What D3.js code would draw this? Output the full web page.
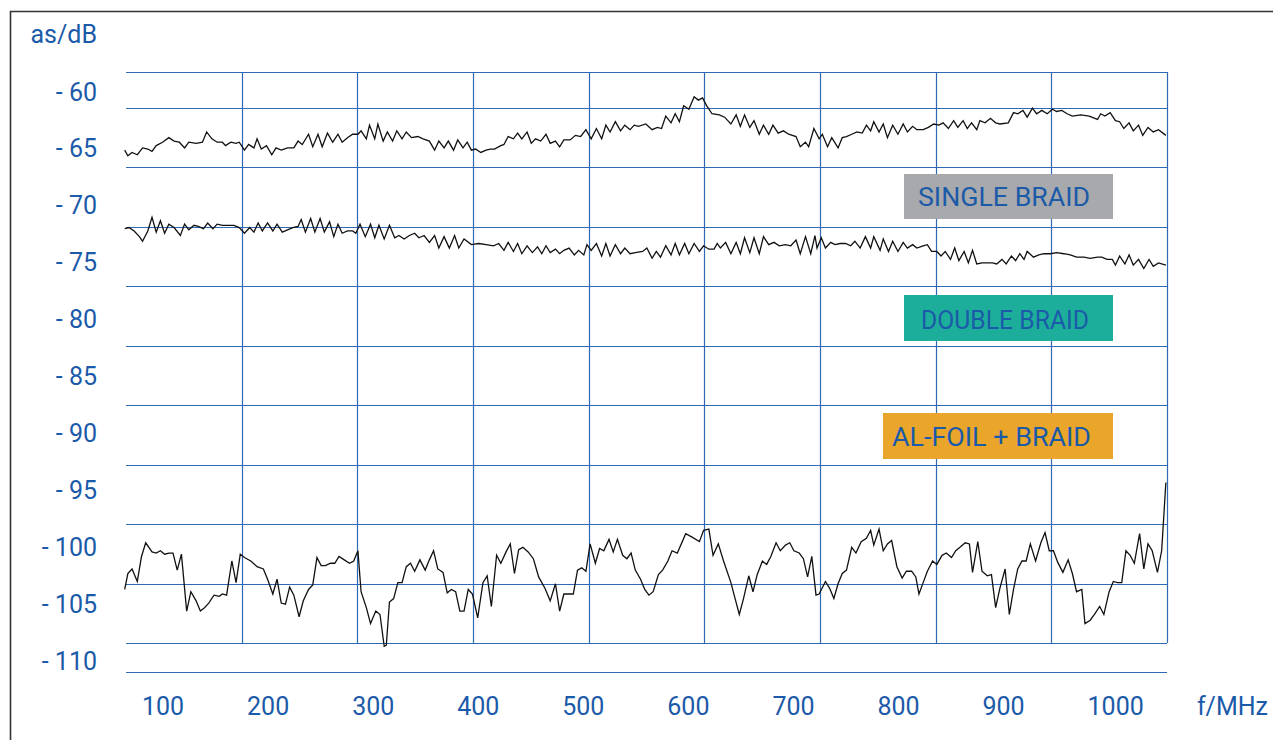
<!DOCTYPE html>
<html>
<head>
<meta charset="utf-8">
<script src="https://cdn.jsdelivr.net/npm/d3@7"></script>
<style>
  html, body { margin: 0; padding: 0; background: #fff; }
  svg { display: block; }
  text { font-family: Roboto, "Noto Sans", sans-serif; }
</style>
</head>
<body>
<svg id="chart" width="1273" height="740"></svg>
<script>
// ---------------- DATA ----------------
const yTickValues = [-60, -65, -70, -75, -80, -85, -90, -95, -100, -105, -110];
const xTickValues = [100, 200, 300, 400, 500, 600, 700, 800, 900, 1000];
const yAxisTitle = "as/dB";
const xAxisTitle = "f/MHz";
const seriesNames = ["SINGLE BRAID", "DOUBLE BRAID", "AL-FOIL + BRAID"];
const seriesColors = ["#a7a9ac", "#1dae9b", "#e9a62a"];

// [frequency MHz, attenuation dB]
const singleBraid = [[84,-65.2],[87,-65.7],[91,-65.4],[96,-65.6],[101,-65.0],[106,-65.1],[110,-65.3],[114,-64.8],[120,-64.5],[126,-64.1],[131,-64.4],[136,-64.5],[141,-65.0],[145,-64.5],[152,-64.6],[158,-64.5],[162,-63.6],[167,-64.2],[172,-64.5],[177,-64.5],[180,-64.8],[185,-64.5],[190,-64.6],[193,-64.5],[198,-65.2],[202,-64.7],[207,-65.0],[210,-64.2],[214,-65.1],[219,-64.8],[224,-65.6],[228,-65.0],[233,-65.2],[239,-65.0],[245,-65.0],[249,-64.4],[253,-64.7],[259,-63.8],[263,-64.9],[268,-63.8],[272,-64.9],[277,-63.7],[282,-64.5],[287,-63.8],[291,-64.5],[296,-64.1],[301,-63.8],[306,-63.8],[309,-63.5],[314,-64.2],[317,-63.0],[322,-64.2],[325,-62.9],[330,-64.4],[334,-63.6],[339,-64.4],[343,-63.5],[348,-64.2],[352,-63.6],[357,-64.1],[363,-64.0],[368,-64.2],[374,-64.4],[379,-65.2],[383,-64.4],[388,-65.0],[392,-64.4],[397,-65.2],[401,-64.3],[406,-65.0],[410,-64.5],[414,-65.2],
[418,-65.1],[423,-65.4],[428,-65.2],[432,-65.1],[436,-65.1],[442,-64.8],[445,-64.7],[449,-64.0],[454,-64.2],[458,-63.7],[462,-64.2],[467,-63.6],[471,-64.6],[475,-64.2],[480,-64.4],[485,-63.8],[489,-64.6],[494,-64.4],[498,-64.9],[502,-64.3],[508,-64.3],[513,-63.9],[518,-64.0],[523,-63.4],[528,-64.2],[533,-63.3],[538,-64.2],[542,-63.0],[546,-63.6],[551,-62.7],[556,-63.5],[560,-63.0],[565,-63.4],[569,-63.0],[573,-63.1],[580,-62.9],[586,-63.4],[591,-63.2],[595,-63.3],[599,-62.2],[604,-62.8],[608,-62.0],[612,-62.7],[616,-61.3],[621,-61.6],[626,-60.5],[630,-60.8],[634,-60.6],[638,-61.3],[643,-62.0],[650,-62.1],[655,-62.3],[661,-62.9],[666,-62.1],[670,-63.1],[674,-62.1],[679,-63.2],[683,-62.6],[688,-63.8],[692,-63.0],[697,-63.8],[701,-63.0],[706,-63.7],[711,-63.5],[716,-63.8],[723,-64.0],[727,-64.9],[732,-64.5],[735,-64.9],[740,-63.3],[745,-64.2],
[748,-63.8],[753,-64.9],[757,-64.1],[763,-65.0],[767,-64.1],[771,-64.0],[776,-63.8],[781,-63.6],[786,-63.7],[790,-63.0],[794,-63.5],[797,-62.7],[802,-63.6],[806,-62.9],[810,-64.1],[815,-63.0],[820,-63.8],[825,-62.9],[829,-63.6],[834,-63.1],[838,-63.4],[844,-63.4],[849,-63.2],[854,-62.9],[859,-63.0],[863,-62.8],[868,-63.3],[873,-62.6],[877,-63.2],[882,-62.6],[886,-63.3],[890,-62.8],[895,-63.4],[898,-62.6],[903,-62.8],[908,-62.4],[913,-62.8],[917,-62.9],[925,-62.8],[930,-61.9],[934,-62.0],[939,-61.7],[943,-62.3],[948,-61.5],[952,-62.0],[957,-61.7],[962,-62.0],[967,-61.6],[971,-61.8],[976,-61.7],[981,-62.0],[986,-62.2],[994,-62.1],[1002,-62.2],[1010,-62.5],[1013,-62.0],[1017,-62.2],[1022,-61.9],[1027,-62.6],[1031,-62.7],[1035,-63.3],[1040,-62.8],[1044,-63.5],[1049,-63.0],[1053,-63.9],[1058,-63.2],[1063,-63.6],[1068,-63.4],[1075,-63.9]];

const doubleBraid = [[84,-72.1],[88,-72.0],[93,-72.3],[98,-72.8],[101,-73.2],[106,-72.3],[110,-71.1],[114,-72.4],[118,-71.4],[122,-72.5],[126,-71.7],[131,-72.0],[137,-72.7],[141,-71.7],[145,-72.2],[150,-71.8],[154,-71.9],[159,-72.1],[163,-71.6],[168,-72.1],[172,-71.7],[177,-71.8],[182,-71.8],[188,-71.8],[193,-72.0],[198,-72.5],[203,-72.0],[207,-72.4],[211,-71.6],[215,-72.3],[220,-71.6],[225,-72.3],[229,-71.7],[234,-72.4],[239,-72.2],[244,-72.0],[249,-71.9],[252,-71.3],[256,-72.4],[261,-71.2],[265,-72.4],[270,-71.2],[274,-72.4],[279,-71.5],[283,-72.8],[287,-71.7],[291,-72.5],[296,-72.3],[301,-72.3],[304,-72.5],[308,-71.7],[313,-72.8],[318,-71.7],[322,-72.9],[326,-71.8],[331,-73.0],[336,-71.8],[341,-72.9],[345,-72.7],[350,-73.0],[355,-72.7],[360,-72.5],[364,-72.9],[369,-72.7],[374,-73.3],[379,-72.7],[383,-73.8],[388,-72.8],[393,-73.8],[398,-72.7],[402,-73.8],[407,-73.0],[414,-73.5],
[421,-73.4],[428,-73.5],[435,-73.6],[440,-73.4],[445,-74.0],[449,-73.3],[454,-74.1],[458,-73.4],[462,-74.3],[467,-73.6],[472,-74.2],[477,-73.7],[481,-74.3],[485,-73.6],[489,-74.2],[494,-73.9],[498,-74.3],[502,-74.0],[507,-73.8],[512,-74.4],[516,-74.0],[521,-74.4],[524,-73.5],[528,-74.0],[533,-73.4],[538,-74.5],[542,-73.4],[546,-74.5],[551,-73.5],[556,-74.3],[560,-73.8],[565,-74.3],[570,-74.2],[577,-74.1],[581,-73.8],[586,-74.7],[590,-74.1],[594,-74.6],[599,-73.6],[604,-74.4],[608,-73.4],[612,-74.4],[617,-73.4],[621,-74.3],[626,-73.4],[631,-74.1],[635,-73.6],[640,-73.9],[645,-73.9],[648,-73.4],[651,-73.8],[656,-73.3],[661,-74.3],[666,-73.3],[670,-74.3],[674,-72.9],[679,-74.2],[683,-72.9],[688,-74.3],[692,-72.8],[697,-73.5],[702,-73.3],[707,-73.6],[713,-73.5],[718,-73.6],[723,-73.1],[727,-74.3],[732,-72.8],[737,-74.3],[741,-72.7],
[743,-73.8],[747,-72.9],[751,-73.8],[756,-73.3],[760,-73.5],[765,-73.4],[770,-73.4],[775,-73.6],[779,-73.2],[784,-73.8],[789,-72.8],[794,-73.8],[797,-72.8],[803,-74.0],[806,-73.0],[811,-74.1],[815,-73.2],[820,-74.1],[825,-73.3],[829,-73.8],[834,-73.5],[838,-73.8],[844,-73.6],[848,-73.5],[852,-74.1],[857,-74.1],[861,-74.5],[865,-74.1],[870,-74.8],[874,-73.8],[878,-74.9],[883,-74.1],[887,-75.1],[891,-74.0],[895,-75.2],[900,-75.1],[905,-75.1],[910,-75.1],[914,-75.2],[919,-74.8],[923,-75.2],[928,-74.5],[932,-74.9],[936,-74.3],[940,-74.8],[943,-74.1],[949,-74.6],[954,-74.4],[959,-74.3],[965,-74.3],[971,-74.2],[978,-74.3],[984,-74.4],[990,-74.6],[997,-74.6],[1003,-74.7],[1010,-74.6],[1014,-74.6],[1019,-74.8],[1024,-74.8],[1027,-75.3],[1031,-74.5],[1036,-75.2],[1040,-74.4],[1044,-75.3],[1049,-74.8],[1054,-75.6],[1059,-74.8],[1063,-75.4],[1068,-75.1],[1075,-75.3]];

const foilBraid = [[84,-103.8],[87,-102.4],[91,-102.0],[96,-103.1],[100,-100.9],[104,-99.7],[110,-100.5],[114,-100.6],[118,-100.4],[122,-100.7],[126,-100.6],[130,-100.6],[134,-102.1],[138,-100.7],[143,-105.7],[147,-104.0],[152,-104.8],[156,-105.7],[160,-105.4],[164,-105.0],[169,-104.3],[174,-104.4],[177,-104.2],[181,-104.3],[186,-101.3],[190,-103.2],[194,-100.7],[198,-101.0],[204,-101.3],[210,-101.8],[216,-102.0],[220,-102.9],[225,-104.2],[229,-102.9],[233,-105.0],[237,-105.1],[241,-103.6],[245,-104.3],[250,-106.2],[254,-104.8],[259,-103.8],[263,-103.4],[267,-101.0],[271,-101.7],[275,-101.7],[280,-101.5],[284,-101.5],[288,-100.9],[293,-101.2],[298,-101.5],[302,-101.3],[306,-100.4],[309,-104.0],[314,-105.4],[318,-106.8],[323,-105.7],[327,-106.0],[331,-108.8],[333,-108.7],[336,-104.9],[340,-104.6],[344,-103.2],[348,-103.2],[352,-101.8],[356,-101.5],[360,-102.2],[365,-101.2],[370,-102.1],[374,-101.2],[378,-100.4],[382,-102.0],[387,-102.3],[391,-104.1],[395,-103.8],[399,-104.0],[403,-105.7],[407,-105.7],[411,-103.8],[415,-104.2],
[420,-106.3],[425,-103.2],[429,-102.6],[433,-105.3],[438,-100.8],[442,-101.5],[447,-100.5],[451,-99.8],[455,-102.4],[459,-100.3],[463,-100.1],[468,-100.5],[473,-101.1],[478,-102.7],[484,-103.7],[489,-104.8],[494,-103.3],[498,-105.7],[502,-104.2],[507,-104.2],[511,-104.2],[515,-102.1],[519,-101.9],[523,-102.2],[527,-99.8],[532,-101.5],[536,-100.2],[540,-100.4],[545,-99.4],[549,-100.5],[553,-99.4],[558,-100.8],[562,-101.1],[566,-100.6],[570,-102.1],[575,-102.9],[579,-103.8],[583,-104.3],[587,-104.0],[592,-102.5],[596,-102.1],[601,-101.3],[605,-100.4],[610,-100.6],[618,-98.9],[624,-99.2],[631,-99.6],[635,-98.6],[640,-98.5],[644,-100.8],[649,-99.8],[654,-101.3],[661,-103.2],[665,-104.6],[669,-106.0],[673,-104.6],[678,-102.6],[682,-104.0],[686,-102.5],[691,-101.3],[695,-101.6],[699,-100.9],[704,-99.7],[708,-100.4],[713,-99.9],[717,-99.7],[721,-100.4],[726,-100.6],[730,-101.1],[734,-102.7],[738,-100.9],[742,-104.3],[745,-104.2],
[751,-103.1],[755,-103.7],[759,-104.6],[763,-103.3],[767,-102.4],[771,-102.1],[776,-100.1],[780,-100.6],[785,-99.6],[790,-99.3],[794,-98.6],[797,-99.9],[802,-98.5],[806,-100.4],[810,-99.8],[814,-99.5],[819,-101.8],[824,-102.8],[828,-102.2],[833,-102.2],[837,-102.7],[840,-104.2],[844,-103.2],[848,-102.2],[853,-101.3],[857,-101.6],[862,-100.8],[866,-100.6],[871,-101.0],[875,-100.4],[879,-100.1],[884,-99.7],[888,-99.8],[891,-102.3],[896,-99.6],[900,-102.2],[905,-102.6],[909,-102.5],[913,-105.4],[917,-103.7],[922,-102.0],[926,-106.0],[930,-103.8],[934,-102.0],[938,-101.3],[942,-101.3],[946,-99.8],[951,-101.3],[956,-99.7],[960,-98.8],[964,-100.4],[968,-100.4],[972,-101.4],[977,-102.3],[982,-101.2],[986,-102.4],[990,-104.0],[995,-103.8],[998,-106.8],[1003,-106.5],[1007,-106.0],[1012,-105.3],[1016,-106.0],[1021,-104.0],[1025,-103.1],[1029,-103.2],[1033,-103.2],[1037,-100.4],[1041,-100.8],[1045,-101.5],[1050,-98.9],[1054,-102.0],[1058,-99.8],[1062,-100.4],[1067,-102.3],[1071,-100.4],[1075,-94.4]];

// ---------------- LAYOUT ----------------
const W = 1273, H = 740;
const plot = { left: 126, right: 1167, top: 72, bottom: 672 };
const textColor = "#1b5aa8";
const gridColor = "#2f69b4";

const svg = d3.select("#chart");

// Scales (value -> pixel)
const x = d3.scaleLinear().domain([100, 900]).range([141.5, 982]);
const y = d3.scaleLinear().domain([-60, -110]).range([91, 660]);

// outer frame (top and left edge)
svg.append("path")
  .attr("d", `M10.5,${H} L10.5,11.5 L${W},11.5`)
  .attr("fill", "none").attr("stroke", "#333").attr("stroke-width", 1.6);

// Grid (independent of tick labels, as in the reference)
const rowScale = d3.scaleLinear().domain([0, 9]).range([108, 643]);
const colScale = d3.scaleLinear().domain([0, 9]).range([plot.left, plot.right]);
const rows = [plot.top].concat(d3.range(10).map(rowScale), [plot.bottom]);
const cols = d3.range(1, 10).map(colScale);

const grid = svg.append("g").attr("stroke", gridColor).attr("stroke-width", 1.2);
grid.selectAll("line.h").data(rows).join("line")
  .attr("class", "h")
  .attr("x1", plot.left).attr("x2", plot.right)
  .attr("y1", d => Math.round(d) + 0.5).attr("y2", d => Math.round(d) + 0.5);
grid.selectAll("line.v").data(cols).join("line")
  .attr("class", "v")
  .attr("x1", d => Math.round(d) + 0.5).attr("x2", d => Math.round(d) + 0.5)
  .attr("y1", plot.top).attr("y2", rowScale(9));

// Y axis labels
const yAxis = svg.append("g")
  .attr("transform", "translate(97,0)")
  .call(d3.axisLeft(y).tickValues(yTickValues).tickSize(0).tickPadding(0)
    .tickFormat(d => "- " + Math.abs(d)));
yAxis.select(".domain").remove();
yAxis.selectAll("text")
  .attr("fill", textColor).attr("font-size", 25)
  .attr("font-family", "Roboto, sans-serif")
  .attr("dy", 9);

// X axis labels
const xAxis = svg.append("g")
  .attr("transform", "translate(0,715)")
  .call(d3.axisBottom(x).tickValues(xTickValues).tickSize(0).tickPadding(0)
    .tickFormat(d3.format("d")));
xAxis.select(".domain").remove();
xAxis.selectAll("text")
  .attr("fill", textColor).attr("font-size", 25)
  .attr("font-family", "Roboto, sans-serif")
  .attr("text-anchor", "start").attr("y", 0).attr("dy", 0);

// Axis titles
svg.append("text").attr("x", 97).attr("y", 43).attr("text-anchor", "end")
  .attr("fill", textColor).attr("font-size", 25).text(yAxisTitle);
svg.append("text").attr("x", 1268).attr("y", 715).attr("text-anchor", "end")
  .attr("fill", textColor).attr("font-size", 25).text(xAxisTitle);

// Lines
const line = d3.line().x(d => x(d[0])).y(d => y(d[1])).curve(d3.curveLinear);
const seriesData = [singleBraid, doubleBraid, foilBraid];
svg.append("g").selectAll("path.series").data(seriesData).join("path")
  .attr("class", "series")
  .attr("d", line)
  .attr("fill", "none")
  .attr("stroke", "#111")
  .attr("stroke-width", 1.3)
  .attr("stroke-linejoin", "miter");

// Legend labels (boxes)
const legendBoxes = [
  { x0: 904, x1: 1113, y0: 174, y1: 219, tx: 918, ty: 206, tw: 172 },
  { x0: 904, x1: 1113, y0: 295, y1: 341, tx: 921, ty: 329, tw: 168 },
  { x0: 883, x1: 1113, y0: 413, y1: 459, tx: 892, ty: 446, tw: 199 }
];
const lg = svg.append("g");
legendBoxes.forEach((b, i) => {
  lg.append("rect").attr("x", b.x0).attr("y", b.y0)
    .attr("width", b.x1 - b.x0).attr("height", b.y1 - b.y0)
    .attr("fill", seriesColors[i]);
  lg.append("text").attr("x", b.tx).attr("y", b.ty)
    .attr("fill", textColor).attr("font-size", 26)
    .attr("textLength", b.tw).attr("lengthAdjust", "spacingAndGlyphs")
    .text(seriesNames[i]);
});
</script>
</body>
</html>
